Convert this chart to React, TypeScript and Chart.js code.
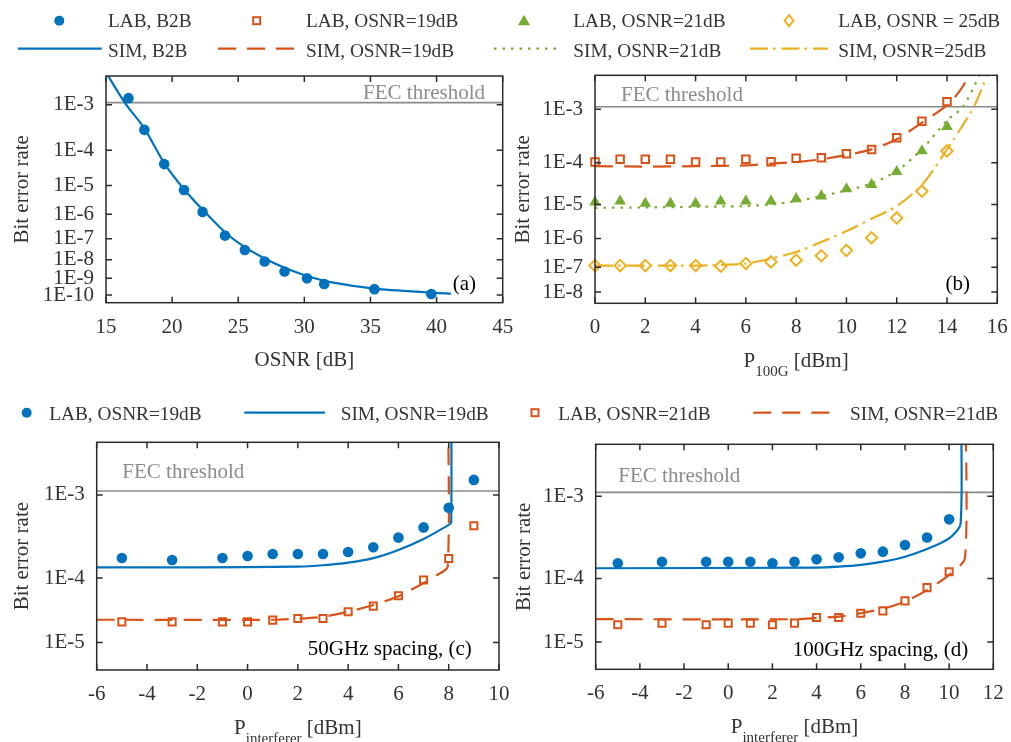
import React, { useEffect, useRef } from "react";
import { Chart, registerables } from "chart.js";

Chart.register(...registerables);

const W = 1011;
const H = 742;
const SERIF = "'Liberation Serif', 'Times New Roman', Times, serif";
const BLUE = "#0072BD";
const ORANGE = "#D95319";
const GREEN = "#77AC30";
const YELLOW = "#EDB120";
const AXIS = "#2b2b2b";
const TEXT = "#333333";
const FEC_GREY = "#8c8c8c";

// ---------- data (BER values) ----------
const FEC_BER = 1.1e-3;

// (a) B2B vs OSNR
const labB2B_x = [16.7, 17.9, 19.4, 20.9, 22.3, 24.0, 25.5, 27.0, 28.5, 30.2, 31.5, 35.3, 39.6];
const labB2B_ber = [1.33e-3, 3.05e-4, 4.3e-5, 7.2e-6, 1.23e-6, 1.36e-7, 3.0e-8, 8.1e-9, 2.4e-9, 1.0e-9, 4.7e-10, 2.3e-10, 1.16e-10];
const simB2B_x = [15.0, 16.44, 17.9, 19.4, 20.9, 22.3, 24.0, 25.5, 27.0, 28.5, 30.2, 32.2, 35.3, 39.6, 41.1];
const simB2B_ber = [3.6e-3, 1.08e-3, 3.3e-4, 4.6e-5, 7.6e-6, 1.5e-6, 1.9e-7, 4.1e-8, 1.15e-8, 3.8e-9, 1.37e-9, 5.7e-10, 2.5e-10, 1.4e-10, 1.2e-10];

// (b) vs P100G
const p100g_x = [0, 1, 2, 3, 4, 5, 6, 7, 8, 9, 10, 11, 12, 13, 14];
const labB19_ber = [1.04e-4, 1.19e-4, 1.19e-4, 1.19e-4, 1.04e-4, 1.04e-4, 1.19e-4, 1.06e-4, 1.25e-4, 1.29e-4, 1.56e-4, 1.9e-4, 3.2e-4, 6.3e-4, 1.32e-3];
const labB21_ber = [1.15e-5, 1.22e-5, 1.06e-5, 1.06e-5, 1.06e-5, 1.22e-5, 1.22e-5, 1.22e-5, 1.41e-5, 1.66e-5, 2.5e-5, 3.2e-5, 6.4e-5, 1.77e-4, 5.1e-4];
const labB25_ber = [1.14e-7, 1.14e-7, 1.14e-7, 1.14e-7, 1.14e-7, 1.08e-7, 1.36e-7, 1.56e-7, 1.8e-7, 2.6e-7, 4.0e-7, 1.05e-6, 4.2e-6, 2.2e-5, 1.77e-4];
const simB19_x = [0, 2, 4, 6, 7, 8, 9, 10, 11, 12, 13, 14, 14.5, 15];
const simB19_ber = [8.5e-5, 8.3e-5, 8.5e-5, 8.8e-5, 9.6e-5, 1.04e-4, 1.19e-4, 1.46e-4, 1.9e-4, 3.0e-4, 6.0e-4, 1.15e-3, 1.9e-3, 3.6e-3];
const simB21_x = [0, 2, 4, 5, 6, 7, 8, 9, 10, 11, 12, 13, 14, 14.64, 15.3];
const simB21_ber = [8.1e-6, 8.3e-6, 8.6e-6, 8.8e-6, 9.0e-6, 1.0e-5, 1.22e-5, 1.66e-5, 2.3e-5, 3.4e-5, 6.6e-5, 1.9e-4, 6.5e-4, 1.1e-3, 3.2e-3];
const simB25_x = [0, 2, 4, 5, 6, 7, 8, 9, 10, 11, 12, 13, 14, 15.07, 15.6];
const simB25_ber = [1.14e-7, 1.14e-7, 1.14e-7, 1.2e-7, 1.36e-7, 2.07e-7, 3.5e-7, 7.6e-7, 1.7e-6, 4.0e-6, 9.0e-6, 3.1e-5, 1.9e-4, 1.1e-3, 3.2e-3];

// (c) 50 GHz spacing vs P_interferer
const pc_x = [-5, -3, -1, 0, 1, 2, 3, 4, 5, 6, 7, 8, 9];
const labC19_ber = [1.85e-4, 1.75e-4, 1.85e-4, 1.97e-4, 2.09e-4, 2.09e-4, 2.09e-4, 2.21e-4, 2.54e-4, 3.33e-4, 4.4e-4, 7.3e-4, 1.42e-3];
const labC21_ber = [2.21e-5, 2.21e-5, 2.21e-5, 2.21e-5, 2.36e-5, 2.51e-5, 2.51e-5, 3.2e-5, 3.9e-5, 5.6e-5, 9.4e-5, 1.83e-4, 4.6e-4];
const simC19_x = [-6, -2, 2, 3, 4, 5, 6, 7, 8, 8.1, 8.1];
const simC19_ber = [1.4e-4, 1.4e-4, 1.43e-4, 1.49e-4, 1.61e-4, 1.85e-4, 2.35e-4, 3.2e-4, 4.7e-4, 5.0e-4, 1e-2];
const simC21_x = [-6, 1, 2, 3, 4, 5, 6, 7, 7.5, 7.96, 7.96];
const simC21_ber = [2.39e-5, 2.39e-5, 2.48e-5, 2.66e-5, 3.2e-5, 4.06e-5, 5.5e-5, 8.5e-5, 1.08e-4, 1.43e-4, 1e-2];

// (d) 100 GHz spacing vs P_interferer
const pd_x = [-5, -3, -1, 0, 1, 2, 3, 4, 5, 6, 7, 8, 9, 10];
const labD19_ber = [1.61e-4, 1.69e-4, 1.69e-4, 1.69e-4, 1.69e-4, 1.61e-4, 1.69e-4, 1.82e-4, 1.93e-4, 2.17e-4, 2.28e-4, 2.77e-4, 3.43e-4, 5.6e-4];
const labD21_ber = [1.97e-5, 2.1e-5, 1.97e-5, 2.1e-5, 2.1e-5, 1.97e-5, 2.1e-5, 2.59e-5, 2.59e-5, 3.03e-5, 3.3e-5, 4.7e-5, 7.4e-5, 1.24e-4];
const simD19_x = [-6, 4, 5, 6, 7, 8, 9, 10, 10.52, 10.52];
const simD19_ber = [1.38e-4, 1.41e-4, 1.45e-4, 1.53e-4, 1.69e-4, 1.96e-4, 2.46e-4, 3.34e-4, 5.0e-4, 1e-2];
const simD21_x = [-6, 3, 4, 5, 6, 7, 8, 9, 10, 10.72, 10.72];
const simD21_ber = [2.43e-5, 2.43e-5, 2.55e-5, 2.68e-5, 3.03e-5, 3.56e-5, 4.58e-5, 6.8e-5, 1.12e-4, 1.9e-4, 1e-2];

// axis ticks
const xTicksA = [15, 20, 25, 30, 35, 40, 45];
const xTicksB = [0, 2, 4, 6, 8, 10, 12, 14, 16];
const xTicksC = [-6, -4, -2, 0, 2, 4, 6, 8, 10];
const xTicksD = [-6, -4, -2, 0, 2, 4, 6, 8, 10, 12];
const decadesA = [3, 4, 5, 6, 7, 8, 9, 10];
const decadesB = [3, 4, 5, 6, 7, 8];
const decadesCD = [3, 4, 5];

// ---------- helpers ----------
// BER axis: linear in -log10(-log10(BER))
const tf = (ber: number) => -Math.log10(-Math.log10(ber));
const pts = (xs: number[], bers: number[]) => xs.map((x, i) => ({ x, y: tf(bers[i]) }));

const DASH = [18, 11];
const DOT = [2.5, 6];
const DASHDOT = [18, 5, 2.5, 6];

function lab(data: any[], shape: string, color: string, filled: boolean, r: number) {
  return {
    data,
    showLine: false,
    pointStyle: shape,
    pointRadius: r,
    pointBackgroundColor: filled ? color : "rgba(0,0,0,0)",
    pointBorderColor: color,
    pointBorderWidth: filled ? 0 : 2,
    clip: false,
  };
}
function sim(data: any[], color: string, dash: number[]) {
  return {
    data,
    showLine: true,
    borderColor: color,
    borderWidth: 2.2,
    borderDash: dash,
    pointRadius: 0,
    tension: 0.25,
    fill: false,
  };
}
function fecLine(xMin: number, xMax: number) {
  return {
    data: [{ x: xMin, y: tf(FEC_BER) }, { x: xMax, y: tf(FEC_BER) }],
    showLine: true,
    borderColor: "#8a8a8a",
    borderWidth: 1.6,
    pointRadius: 0,
    tension: 0,
  };
}

interface Spec {
  L: number; T: number; R: number; B: number; yW: number;
  xMin: number; xMax: number; xTicks: number[];
  yBottomExp: number; decades: number[];
  datasets: any[];
  fecAlign: "left" | "right"; fecDx: number; fecDy: number;
  label: string; labelDx: number; labelDy: number;
  xTitle: [string, string, string];
}

const XH = 60;

const SPECS: Spec[] = [
  {
    L: 106, T: 76, R: 502.7, B: 302.7, yW: 96.1,
    xMin: 15, xMax: 45, xTicks: xTicksA, yBottomExp: 10.5, decades: decadesA,
    datasets: [
      lab(pts(labB2B_x, labB2B_ber), "circle", BLUE, true, 5.3),
      sim(pts(simB2B_x, simB2B_ber), BLUE, []),
      fecLine(15, 45),
    ],
    fecAlign: "right", fecDx: 17.7, fecDy: 3.3,
    label: "(a)", labelDx: 26.7, labelDy: 13,
    xTitle: ["OSNR [dB]", "", ""],
  },
  {
    L: 595, T: 75.3, R: 997.3, B: 303.3, yW: 83.9,
    xMin: 0, xMax: 16, xTicks: xTicksB, yBottomExp: 8.5, decades: decadesB,
    datasets: [
      lab(pts(p100g_x, labB19_ber), "rect", ORANGE, false, 5.3),
      lab(pts(p100g_x, labB21_ber), "triangle", GREEN, true, 6.7),
      lab(pts(p100g_x, labB25_ber), "rectRot", YELLOW, false, 5.7),
      sim(pts(simB19_x, simB19_ber), ORANGE, DASH),
      sim(pts(simB21_x, simB21_ber), GREEN, DOT),
      sim(pts(simB25_x, simB25_ber), YELLOW, DASHDOT),
      fecLine(0, 16),
    ],
    fecAlign: "left", fecDx: 26, fecDy: 6,
    label: "(b)", labelDx: 27.3, labelDy: 13.5,
    xTitle: ["P", "100G", " [dBm]"],
  },
  {
    L: 96.7, T: 442.3, R: 499, B: 670, yW: 86.8,
    xMin: -6, xMax: 10, xTicks: xTicksC, yBottomExp: 5.5, decades: decadesCD,
    datasets: [
      lab(pts(pc_x, labC19_ber), "circle", BLUE, true, 5.3),
      lab(pts(pc_x, labC21_ber), "rect", ORANGE, false, 5),
      sim(pts(simC19_x, simC19_ber), BLUE, []),
      sim(pts(simC21_x, simC21_ber), ORANGE, DASH),
      fecLine(-6, 10),
    ],
    fecAlign: "left", fecDx: 25.6, fecDy: 12.7,
    label: "50GHz spacing, (c)", labelDx: 27.3, labelDy: 15,
    xTitle: ["P", "interferer", " [dBm]"],
  },
  {
    L: 595.7, T: 444.3, R: 993.3, B: 669.3, yW: 84,
    xMin: -6, xMax: 12, xTicks: xTicksD, yBottomExp: 5.5, decades: decadesCD,
    datasets: [
      lab(pts(pd_x, labD19_ber), "circle", BLUE, true, 5.3),
      lab(pts(pd_x, labD21_ber), "rect", ORANGE, false, 5),
      sim(pts(simD19_x, simD19_ber), BLUE, []),
      sim(pts(simD21_x, simD21_ber), ORANGE, DASH),
      fecLine(-6, 12),
    ],
    fecAlign: "left", fecDx: 22.6, fecDy: 10.7,
    label: "100GHz spacing, (d)", labelDx: 25, labelDy: 13.5,
    xTitle: ["P", "interferer", " [dBm]"],
  },
];

function zeroPad(s: any) {
  s.paddingLeft = 0;
  s.paddingRight = 0;
  s.paddingTop = 0;
  s.paddingBottom = 0;
}

function makeDecor(p: Spec) {
  return {
    id: "decor",
    afterDatasetsDraw(chart: any) {
      const { ctx, chartArea: ca } = chart;
      const xs = chart.scales.x;
      const ys = chart.scales.y;
      const TL = 6;
      ctx.save();
      ctx.strokeStyle = AXIS;
      ctx.lineWidth = 1.5;
      ctx.strokeRect(ca.left, ca.top, ca.right - ca.left, ca.bottom - ca.top);
      ctx.beginPath();
      for (const t of xs.ticks) {
        const px = xs.getPixelForValue(t.value);
        ctx.moveTo(px, ca.bottom);
        ctx.lineTo(px, ca.bottom - TL);
        ctx.moveTo(px, ca.top);
        ctx.lineTo(px, ca.top + TL);
      }
      for (const t of ys.ticks) {
        const py = ys.getPixelForValue(t.value);
        ctx.moveTo(ca.left, py);
        ctx.lineTo(ca.left + TL, py);
        ctx.moveTo(ca.right, py);
        ctx.lineTo(ca.right - TL, py);
      }
      ctx.stroke();

      // FEC threshold text
      const fy = ys.getPixelForValue(tf(FEC_BER));
      ctx.font = `21px ${SERIF}`;
      ctx.fillStyle = FEC_GREY;
      ctx.textBaseline = "alphabetic";
      ctx.textAlign = p.fecAlign;
      ctx.fillText(
        "FEC threshold",
        p.fecAlign === "right" ? ca.right - p.fecDx : ca.left + p.fecDx,
        fy - p.fecDy
      );

      // panel label
      ctx.font = `21px ${SERIF}`;
      ctx.fillStyle = "#000000";
      ctx.textAlign = "right";
      ctx.fillText(p.label, ca.right - p.labelDx, ca.bottom - p.labelDy);

      // x-axis title with optional subscript
      const [main, sub, rest] = p.xTitle;
      ctx.textAlign = "left";
      ctx.fillStyle = TEXT;
      ctx.font = `21px ${SERIF}`;
      const wMain = ctx.measureText(main).width;
      const wRest = rest ? ctx.measureText(rest).width : 0;
      ctx.font = `15px ${SERIF}`;
      const wSub = sub ? ctx.measureText(sub).width : 0;
      const total = wMain + wSub + wRest;
      let x0 = (ca.left + ca.right) / 2 - total / 2;
      const base = ca.bottom + 63.5;
      ctx.font = `21px ${SERIF}`;
      ctx.fillText(main, x0, base);
      x0 += wMain;
      if (sub) {
        ctx.font = `15px ${SERIF}`;
        ctx.fillText(sub, x0, base + 9.5);
        x0 += wSub;
      }
      if (rest) {
        ctx.font = `21px ${SERIF}`;
        ctx.fillText(rest, x0, base);
      }
      ctx.restore();
    },
  };
}

function makeConfig(p: Spec): any {
  const tickFont = { family: SERIF, size: 21 };
  return {
    type: "scatter",
    data: { datasets: p.datasets },
    options: {
      responsive: false,
      maintainAspectRatio: false,
      animation: false,
      devicePixelRatio: 1,
      events: [],
      layout: {
        padding: { left: p.L - p.yW, top: p.T, right: W - p.R, bottom: H - p.B - XH },
      },
      plugins: { legend: { display: false }, tooltip: { enabled: false } },
      scales: {
        x: {
          type: "linear",
          min: p.xMin,
          max: p.xMax,
          bounds: "data",
          grid: { display: false, drawTicks: false },
          border: { display: false },
          ticks: {
            font: tickFont,
            color: TEXT,
            padding: 12,
            autoSkip: false,
            maxRotation: 0,
            callback: (v: number) => String(v),
          },
          afterBuildTicks: (s: any) => {
            s.ticks = p.xTicks.map((v) => ({ value: v }));
          },
          afterFit: (s: any) => {
            s.height = XH;
            zeroPad(s);
          },
        },
        y: {
          type: "linear",
          min: tf(Math.pow(10, -p.yBottomExp)),
          max: tf(Math.pow(10, -2.5)),
          bounds: "data",
          grid: { display: false, drawTicks: false },
          border: { display: false },
          ticks: {
            font: tickFont,
            color: TEXT,
            padding: 12,
            autoSkip: false,
            callback: (v: number) => "1E-" + Math.round(Math.pow(10, -v)),
          },
          afterBuildTicks: (s: any) => {
            s.ticks = p.decades.map((n) => ({ value: -Math.log10(n) }));
          },
          title: {
            display: true,
            text: "Bit error rate",
            font: { family: SERIF, size: 21 },
            color: TEXT,
            padding: 0,
          },
          afterFit: (s: any) => {
            s.width = p.yW;
            zeroPad(s);
          },
        },
      },
    },
    plugins: [makeDecor(p)],
  };
}

function Panel({ spec }: { spec: Spec }) {
  const ref = useRef<HTMLCanvasElement>(null);
  useEffect(() => {
    const chart = new Chart(ref.current as HTMLCanvasElement, makeConfig(spec));
    return () => chart.destroy();
  }, [spec]);
  return (
    <canvas
      ref={ref}
      width={W}
      height={H}
      style={{ position: "absolute", left: 0, top: 0, width: W, height: H }}
    />
  );
}

// ---------- legends (HTML/SVG) ----------
type Sym =
  | { k: "circle" | "square" | "triangle" | "diamond"; color: string; cx: number; cy: number }
  | { k: "line"; color: string; x1: number; x2: number; cy: number; dash: number[] };

interface LegendItem { sym: Sym; text: string; tx: number; ty: number }

const LEGEND_ITEMS: LegendItem[] = [
  { sym: { k: "circle", color: BLUE, cx: 59.3, cy: 20.7 }, text: "LAB, B2B", tx: 108, ty: 21 },
  { sym: { k: "square", color: ORANGE, cx: 256.7, cy: 20.7 }, text: "LAB, OSNR=19dB", tx: 306, ty: 21 },
  { sym: { k: "triangle", color: GREEN, cx: 524, cy: 20.7 }, text: "LAB, OSNR=21dB", tx: 573.3, ty: 21 },
  { sym: { k: "diamond", color: YELLOW, cx: 789, cy: 20.7 }, text: "LAB, OSNR = 25dB", tx: 838.3, ty: 21 },
  { sym: { k: "line", color: BLUE, x1: 18, x2: 101.7, cy: 48.7, dash: [] }, text: "SIM, B2B", tx: 108, ty: 50.8 },
  { sym: { k: "line", color: ORANGE, x1: 218, x2: 296, cy: 48.7, dash: DASH }, text: "SIM, OSNR=19dB", tx: 306, ty: 50.8 },
  { sym: { k: "line", color: GREEN, x1: 494, x2: 558, cy: 48.7, dash: DOT }, text: "SIM, OSNR=21dB", tx: 573.3, ty: 50.8 },
  { sym: { k: "line", color: YELLOW, x1: 750, x2: 828, cy: 48.7, dash: DASHDOT }, text: "SIM, OSNR=25dB", tx: 838.3, ty: 50.8 },
  { sym: { k: "circle", color: BLUE, cx: 26.7, cy: 412.7 }, text: "LAB, OSNR=19dB", tx: 49.3, ty: 413.7 },
  { sym: { k: "line", color: BLUE, x1: 244.3, x2: 325, cy: 412.7, dash: [] }, text: "SIM, OSNR=19dB", tx: 340.7, ty: 413.7 },
  { sym: { k: "square", color: ORANGE, cx: 535, cy: 412.7 }, text: "LAB, OSNR=21dB", tx: 558.3, ty: 413.7 },
  { sym: { k: "line", color: ORANGE, x1: 753.3, x2: 833.3, cy: 412.7, dash: DASH }, text: "SIM, OSNR=21dB", tx: 850, ty: 413.7 },
];

function SymbolSvg({ s }: { s: Sym }) {
  if (s.k === "line") {
    return (
      <line
        x1={s.x1}
        x2={s.x2}
        y1={s.cy}
        y2={s.cy}
        stroke={s.color}
        strokeWidth={2.2}
        strokeDasharray={s.dash.length ? s.dash.join(" ") : undefined}
      />
    );
  }
  const { cx, cy, color } = s;
  if (s.k === "circle") return <circle cx={cx} cy={cy} r={5} fill={color} />;
  if (s.k === "square")
    return <rect x={cx - 3.5} y={cy - 3.5} width={7} height={7} fill="none" stroke={color} strokeWidth={2} />;
  if (s.k === "triangle")
    return <polygon points={`${cx},${cy - 6} ${cx + 6},${cy + 4.5} ${cx - 6},${cy + 4.5}`} fill={color} />;
  return (
    <polygon
      points={`${cx},${cy - 5.5} ${cx + 4.5},${cy} ${cx},${cy + 5.5} ${cx - 4.5},${cy}`}
      fill="none"
      stroke={color}
      strokeWidth={2}
    />
  );
}

function Legends() {
  const FS = 19.3;
  return (
    <>
      <svg
        width={W}
        height={H}
        style={{ position: "absolute", left: 0, top: 0, pointerEvents: "none" }}
      >
        {LEGEND_ITEMS.map((it, i) => (
          <SymbolSvg key={i} s={it.sym} />
        ))}
      </svg>
      {LEGEND_ITEMS.map((it, i) => (
        <div
          key={i}
          style={{
            position: "absolute",
            left: it.tx,
            top: it.ty - 10.1,
            fontFamily: SERIF,
            fontSize: FS,
            lineHeight: "20px",
            color: TEXT,
            whiteSpace: "pre",
          }}
        >
          {it.text}
        </div>
      ))}
    </>
  );
}

export default function App() {
  return (
    <div
      style={{
        position: "absolute",
        left: 0,
        top: 0,
        width: W,
        height: H,
        background: "#ffffff",
        overflow: "hidden",
      }}
    >
      {SPECS.map((s, i) => (
        <Panel key={i} spec={s} />
      ))}
      <Legends />
    </div>
  );
}
